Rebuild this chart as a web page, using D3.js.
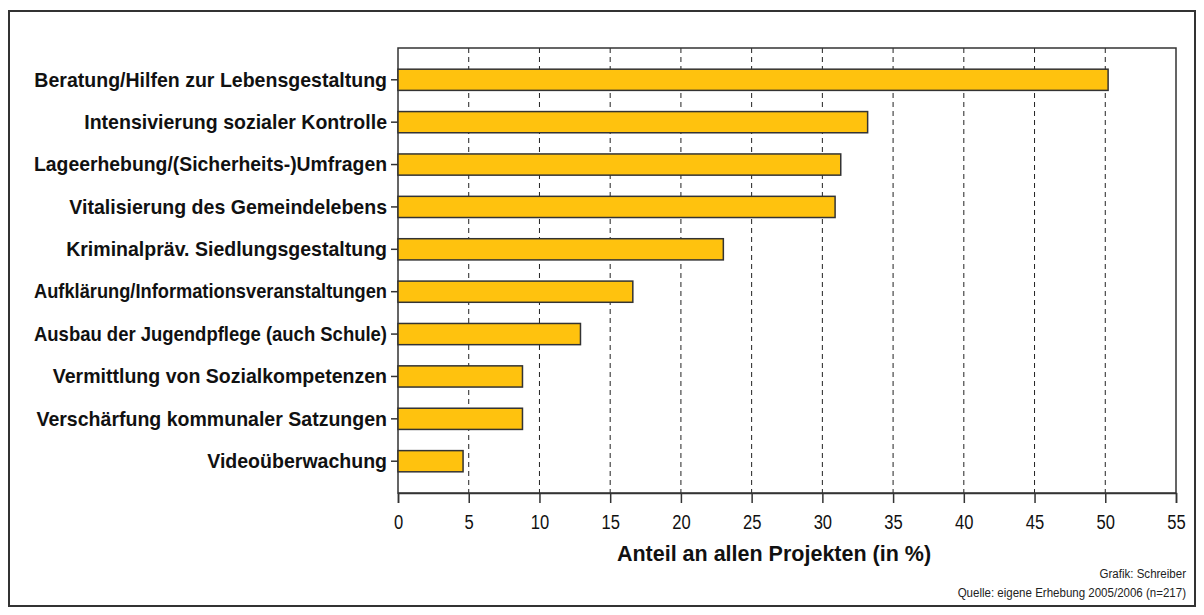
<!DOCTYPE html>
<html><head><meta charset="utf-8">
<script src="https://cdn.jsdelivr.net/npm/d3@7"></script>
<style>body{margin:0;background:#fff}svg{display:block}</style>
</head><body>
<svg id="c" width="1204" height="615"></svg>
<script>
const categories = [
  "Beratung/Hilfen zur Lebensgestaltung",
  "Intensivierung sozialer Kontrolle",
  "Lageerhebung/(Sicherheits-)Umfragen",
  "Vitalisierung des Gemeindelebens",
  "Kriminalpräv. Siedlungsgestaltung",
  "Aufklärung/Informationsveranstaltungen",
  "Ausbau der Jugendpflege (auch Schule)",
  "Vermittlung von Sozialkompetenzen",
  "Verschärfung kommunaler Satzungen",
  "Videoüberwachung"
];
const values = [50.2, 33.2, 31.3, 30.9, 23.0, 16.6, 12.9, 8.8, 8.8, 4.6];
const xTicks = [0, 5, 10, 15, 20, 25, 30, 35, 40, 45, 50, 55];
const axisTitle = "Anteil an allen Projekten (in %)";
const credits = ["Grafik: Schreiber", "Quelle: eigene Erhebung 2005/2006 (n=217)"];

const svg = d3.select("#c");
const L = 398, R = 1176, T = 48, B = 493;
const x = d3.scaleLinear().domain([0, 55]).range([L, R]);
const y = d3.scaleBand().domain(categories).range([T, B]).paddingInner(0.5).paddingOuter(0.5);
const dark = "#333";
const FONT = "'Liberation Sans', Arial, sans-serif";

function condense(sel, f, maxW) {
  sel.each(function () {
    let w = this.getComputedTextLength() * f;
    if (maxW && w > maxW) w = maxW;
    d3.select(this).attr("textLength", w).attr("lengthAdjust", "spacingAndGlyphs");
  });
}

// outer frame
svg.append("rect").attr("x", 9).attr("y", 11).attr("width", 1186).attr("height", 595)
  .attr("fill", "none").attr("stroke", dark).attr("stroke-width", 2);

// dashed grid
svg.append("g").selectAll("line").data(xTicks.filter(d => d > 0 && d < 55)).join("line")
  .attr("x1", d => x(d)).attr("x2", d => x(d)).attr("y1", T).attr("y2", B)
  .attr("stroke", "#222").attr("stroke-width", 1).attr("stroke-dasharray", "5,4");

// plot box
svg.append("rect").attr("x", L).attr("y", T).attr("width", R - L).attr("height", B - T)
  .attr("fill", "none").attr("stroke", dark).attr("stroke-width", 1.5);

// bars
svg.append("g").selectAll("rect").data(values).join("rect")
  .attr("x", x(0)).attr("y", (d, i) => y(categories[i]))
  .attr("width", d => x(d) - x(0)).attr("height", y.bandwidth())
  .attr("fill", "#FFC20E").attr("stroke", dark).attr("stroke-width", 1.5);

// y axis
const ya = svg.append("g").attr("transform", `translate(${L},0)`)
  .call(d3.axisLeft(y).tickSize(7).tickPadding(4));
ya.select(".domain").remove();
ya.selectAll(".tick line").attr("stroke", dark).attr("stroke-width", 1.5);
ya.selectAll(".tick text").attr("fill", "#111")
  .style("font-family", FONT).style("font-weight", "bold").style("font-size", "21px")
  .call(condense, 0.93, 353);

// x axis
const xa = svg.append("g").attr("transform", `translate(0,${B})`)
  .call(d3.axisBottom(x).tickValues(xTicks).tickSize(10).tickPadding(12).tickFormat(d3.format("d")));
xa.select(".domain").attr("stroke", dark).attr("stroke-width", 1.5);
xa.selectAll(".tick line").attr("stroke", dark).attr("stroke-width", 1.5);
xa.selectAll(".tick text").attr("fill", "#111")
  .style("font-family", FONT).style("font-size", "19.5px")
  .call(condense, 0.85);

svg.append("text").attr("x", 774).attr("y", 561).attr("text-anchor", "middle")
  .style("font-family", FONT).style("font-weight", "bold").style("font-size", "21.5px").attr("fill", "#111")
  .text(axisTitle).call(condense, 1.0);

svg.append("g").selectAll("text").data(credits).join("text")
  .attr("x", 1186).attr("y", (d, i) => 578 + i * 19).attr("text-anchor", "end")
  .style("font-family", FONT).style("font-size", "12px").attr("fill", "#222").text(d => d)
  .call(condense, 0.96);
</script>
</body></html>
